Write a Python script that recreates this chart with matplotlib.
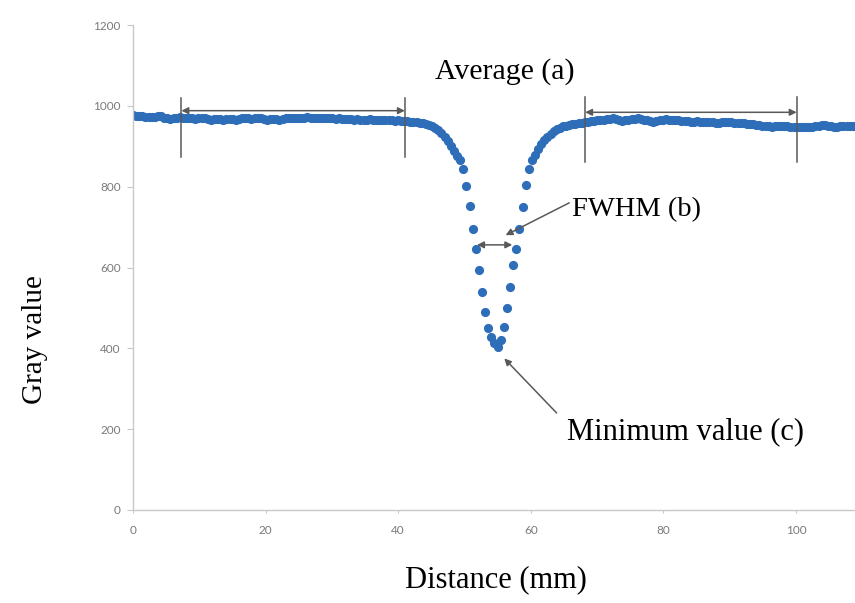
import numpy as np
import matplotlib
matplotlib.use("Agg")
import matplotlib.pyplot as plt

# ---- data ----
step_mm = 0.47
gray_left = [977, 976, 975, 974, 973, 973, 972, 973, 975, 974,
             971, 969, 968, 970, 971, 972, 970, 969, 970, 969,
             968, 969, 970, 969, 967, 966, 967, 968, 967, 966,
             967, 968, 967, 966, 967, 969, 970, 969, 968, 969,
             970, 969, 967, 966, 967, 968, 967, 966, 967, 969,
             970, 971, 970, 969, 970, 971, 972, 971, 970, 971,
             971, 970, 969, 970, 969, 968, 969, 968, 967, 968,
             967, 966, 967, 966, 965, 966, 967, 966, 965, 966,
             965, 964, 965, 964, 963, 964, 963, 962, 962, 961,
             960, 959, 958, 957, 955, 952, 949, 945, 940, 933,
             924, 913, 901, 889, 877]
gray_dip = [866, 844, 802, 752, 695, 646, 594, 539, 490, 450,
            428, 413, 403, 421, 453, 500, 552, 606, 646, 695,
            750, 804, 844, 866]
gray_rise = [878, 892, 905, 915, 924, 931, 937, 942, 946, 949,
             951, 953, 955, 956, 957, 958, 959, 960, 962, 963,
             964, 965]
gray_right = [966, 967, 968, 969, 967, 964, 963, 964, 966, 967,
              968, 969, 968, 966, 964, 962, 961, 963, 965, 966,
              967, 966, 965, 964, 964, 963, 962, 962, 961, 961,
              962, 961, 960, 960, 959, 959, 958, 958, 959, 959,
              960, 959, 958, 957, 957, 957, 956, 955, 954, 953,
              952, 951, 950, 949, 948, 949, 950, 951, 950, 949,
              948, 948, 947, 948, 947, 947, 948, 948, 949, 951,
              952, 953, 951, 949, 948, 948, 949, 951, 950, 949,
              950, 950]
gray_value = gray_left + gray_dip + gray_rise + gray_right
distance = np.arange(len(gray_value)) * step_mm

x_ticks = [0, 20, 40, 60, 80, 100]
y_ticks = [0, 200, 400, 600, 800, 1000, 1200]

# ---- figure ----
W, H = 855, 603
fig = plt.figure(figsize=(W / 100, H / 100), dpi=100)
ax = fig.add_axes([133 / W, 1 - 510 / H, 1 - 133 / W, 485 / H])

ax.plot(distance, gray_value, 'o', color='#2E6DB8', markersize=6.6,
        markeredgewidth=0, clip_on=True)

ax.set_xlim(0, 108.9)
ax.set_ylim(0, 1200)
ax.set_xticks(x_ticks)
ax.set_yticks(y_ticks)
for s in ['top', 'right']:
    ax.spines[s].set_visible(False)
for s in ['left', 'bottom']:
    ax.spines[s].set_color('#c8c8c8')
    ax.spines[s].set_linewidth(1.0)
ax.tick_params(axis='both', colors='#c8c8c8', labelcolor='#7a7a7a',
               labelsize=8.5, length=4, width=0.8)
ax.tick_params(axis='x', pad=9, length=2)
ax.tick_params(axis='y', pad=5)
for lab in ax.get_xticklabels() + ax.get_yticklabels():
    lab.set_family('Lato')

serif = 'Liberation Serif'
fig.text(35 / W, 1 - 340 / H, 'Gray value', rotation=90, family=serif,
         fontsize=21, ha='center', va='center')
fig.text(496 / W, 1 - 580 / H, 'Distance (mm)', family=serif,
         fontsize=22, ha='center', va='center')

ann_col = '#595959'
# Average (a)
ax.text(56.1, 1084, 'Average (a)', family=serif, fontsize=21.5,
        ha='center', va='center')
for x0, x1, ya, yb, yt in [(7.3, 41.0, 988, 873, 1019),
                           (68.2, 100.1, 984, 862, 1022)]:
    ax.annotate('', xy=(x0, ya), xytext=(x1, ya),
                arrowprops=dict(arrowstyle='<|-|>', color=ann_col, lw=1.1,
                                mutation_scale=10, shrinkA=0, shrinkB=0))
    ax.plot([x0, x0], [yb, yt], color=ann_col, lw=1.1)
    ax.plot([x1, x1], [yb, yt], color=ann_col, lw=1.1)

# FWHM (b)
ax.annotate('', xy=(51.9, 656), xytext=(57.2, 656),
            arrowprops=dict(arrowstyle='<|-|>', color=ann_col, lw=1.1,
                            mutation_scale=10, shrinkA=0, shrinkB=0))
ax.annotate('', xy=(56.2, 680), xytext=(65.8, 760),
            arrowprops=dict(arrowstyle='-|>', color=ann_col, lw=1.1,
                            mutation_scale=10, shrinkA=0, shrinkB=0))
ax.text(75.9, 742, 'FWHM (b)', family=serif, fontsize=20.5,
        ha='center', va='center')

# Minimum value (c)
ax.annotate('', xy=(56.0, 375), xytext=(63.9, 240),
            arrowprops=dict(arrowstyle='-|>', color=ann_col, lw=1.1,
                            mutation_scale=10, shrinkA=0, shrinkB=0))
ax.text(83.3, 193, 'Minimum value (c)', family=serif, fontsize=22,
        ha='center', va='center')

fig.savefig('out.png', dpi=100)
